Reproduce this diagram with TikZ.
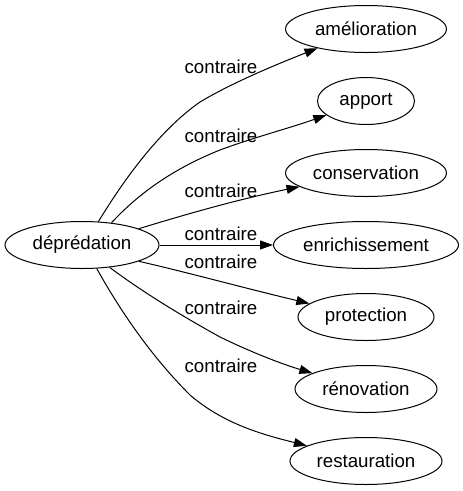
\documentclass[tikz,border=0pt]{standalone}
\usepackage{fontspec}
\setmainfont{Liberation Sans}
\usetikzlibrary{arrows.meta,positioning,shapes.geometric}

\begin{document}
\begin{tikzpicture}[x=1pt,y=-1pt,>={Triangle[length=13pt,width=9pt]}, every node/.style={font=\fontsize{18.7}{22}\selectfont}]
    % Styles
    \tikzset{word/.style ={draw,ellipse,line width=1pt,inner sep=0pt,minimum height=47pt}}
    \tikzset{link/.style ={->,line width=1pt}}
    \tikzset{rel/.style  ={inner sep=0pt}}

    \useasboundingbox (0,0) rectangle (463,491);

    % Source word
    \node[word,minimum width=154pt] (depr) at (82,245) {déprédation};

    % Opposite words
    \node[word,minimum width=161pt] (amel) at (366,29)  {amélioration};
    \node[word,minimum width=97pt]  (appo) at (366,101) {apport};
    \node[word,minimum width=161pt] (cons) at (366,173) {conservation};
    \node[word,minimum width=185pt] (enri) at (366,245) {enrichissement};
    \node[word,minimum width=136pt] (prot) at (366,317) {protection};
    \node[word,minimum width=142pt] (reno) at (366,389) {rénovation};
    \node[word,minimum width=152pt] (rest) at (366,461) {restauration};

    % Edges
    \draw[link] (depr.55) .. controls (125,178) and (160,130) .. (200,102)
                       .. controls (230,84) and (270,67) .. (amel);
    \draw[link] (depr.37) .. controls (140,192) and (175,168) .. (220,150)
                       .. controls (255,137) and (290,128) .. (appo);
    \draw[link] (depr.16) .. controls (190,213) and (240,199) .. (cons);
    \draw[link] (depr) -- (enri);
    \draw[link] (depr.-16) .. controls (190,273) and (240,287) .. (prot);
    \draw[link] (depr.-39) .. controls (140,290) and (175,312) .. (220,337)
                       .. controls (255,354) and (285,365) .. (reno);
    \draw[link] (depr.-58) .. controls (120,310) and (150,355) .. (190,395)
                       .. controls (225,425) and (265,435) .. (rest);

    % Edge labels
    \node[rel] (c-amel) at (221,67)  {contraire};
    \node[rel] (c-appo) at (221,136) {contraire};
    \node[rel] (c-cons) at (221,191) {contraire};
    \node[rel] (c-enri) at (221,234) {contraire};
    \node[rel] (c-prot) at (221,262) {contraire};
    \node[rel] (c-reno) at (221,308) {contraire};
    \node[rel] (c-rest) at (221,366) {contraire};
  \end{tikzpicture}
\end{document}
